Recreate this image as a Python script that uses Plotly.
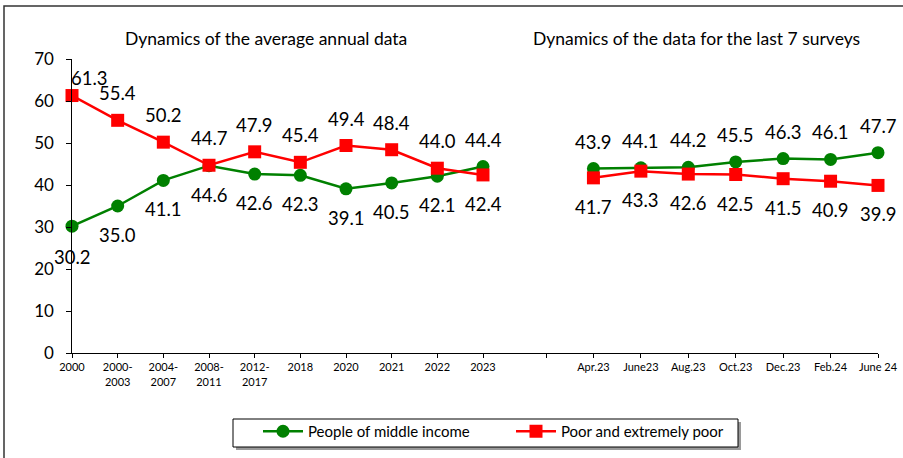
import plotly.graph_objects as go

# ---- data ----
annual_cats = ["2000", "2000-<br>2003", "2004-<br>2007", "2008-<br>2011", "2012-<br>2017",
               "2018", "2020", "2021", "2022", "2023"]
annual_middle = [30.2, 35.0, 41.1, 44.6, 42.6, 42.3, 39.1, 40.5, 42.1, 44.4]
annual_poor = [61.3, 55.4, 50.2, 44.7, 47.9, 45.4, 49.4, 48.4, 44.0, 42.4]

survey_cats = ["Apr.23", "June23", "Aug.23", "Oct.23", "Dec.23", "Feb.24", "June 24"]
survey_middle = [43.9, 44.1, 44.2, 45.5, 46.3, 46.1, 47.7]
survey_poor = [41.7, 43.3, 42.6, 42.5, 41.5, 40.9, 39.9]

name_middle = "People of middle income"
name_poor = "Poor and extremely poor"
title_left = "Dynamics of the average annual data"
title_right = "Dynamics of the data for the last 7 surveys"

# label placement (style): +1 above, -1 below
annual_middle_side = [-1, -1, -1, -1, -1, -1, -1, -1, -1, 1]
annual_poor_side = [1, 1, 1, 1, 1, 1, 1, 1, 1, -1]

# ---- style ----
GREEN = "#008000"
RED = "#FF0000"
FONT = "Lato"
W, H = 903, 458
ML, MR, MT, MB = 72, 25, 59, 105
PW, PH = W - ML - MR, H - MT - MB


def px_x(p):
    return (p - ML) / PW


def px_y(p):
    return (H - MB - p) / PH


fig = go.Figure()

line_w = 2.5
for xa, cats, mid, poor, show in [("x", annual_cats, annual_middle, annual_poor, True),
                                   ("x2", survey_cats, survey_middle, survey_poor, False)]:
    fig.add_trace(go.Scatter(x=cats, y=mid, xaxis=xa, yaxis="y", mode="lines+markers",
                             name=name_middle, showlegend=show, legendgroup="m",
                             line=dict(color=GREEN, width=line_w),
                             marker=dict(symbol="circle", size=13, color=GREEN),
                             cliponaxis=False))
    fig.add_trace(go.Scatter(x=cats, y=poor, xaxis=xa, yaxis="y", mode="lines+markers",
                             name=name_poor, showlegend=show, legendgroup="p",
                             line=dict(color=RED, width=line_w),
                             marker=dict(symbol="square", size=13, color=RED),
                             cliponaxis=False))

UP, DOWN = 27, -29
lab_font = dict(family=FONT, size=18.5, color="black")
ann = []
for i, c in enumerate(annual_cats):
    for v, side in [(annual_middle[i], annual_middle_side[i]), (annual_poor[i], annual_poor_side[i])]:
        ys = UP if side > 0 else DOWN
        xs = 0
        if i == 0 and side > 0:
            ys, xs = 18, 17
        if i == 0 and side < 0:
            ys = -31
        # category axes: position by category index
        ann.append(dict(x=i, y=v, xref="x", yref="y", text=f"{v:.1f}", showarrow=False,
                        yshift=ys, xshift=xs, font=lab_font))
for i, c in enumerate(survey_cats):
    ann.append(dict(x=i + 1, y=survey_middle[i], xref="x2", yref="y", text=f"{survey_middle[i]:.1f}",
                    showarrow=False, yshift=UP, font=lab_font))
    ann.append(dict(x=i + 1, y=survey_poor[i], xref="x2", yref="y", text=f"{survey_poor[i]:.1f}",
                    showarrow=False, yshift=DOWN, font=lab_font))

title_font = dict(family=FONT, size=17.5, color="black")
ann.append(dict(x=px_x(266), y=px_y(38), xref="paper", yref="paper", text=title_left,
                showarrow=False, font=title_font, xanchor="center", yanchor="middle"))
ann.append(dict(x=px_x(696), y=px_y(38), xref="paper", yref="paper", text=title_right,
                showarrow=False, font=title_font, xanchor="center", yanchor="middle"))

split = px_x(546)
left_units = (546 - 72) / ((483 - 72) / (len(annual_cats) - 1))

axis_common = dict(showline=True, linecolor="black", linewidth=1, showgrid=False, zeroline=False,
                   ticks="outside", ticklen=4, tickcolor="black", tickwidth=1,
                   tickfont=dict(family=FONT, size=11, color="black"), fixedrange=True)

fig.update_layout(
    width=W, height=H,
    margin=dict(l=ML, r=MR, t=MT, b=MB, pad=0, autoexpand=False),
    paper_bgcolor="white", plot_bgcolor="white",
    font=dict(family=FONT, color="black"),
    xaxis=dict(domain=[0, split], type="category", categoryorder="array",
               categoryarray=annual_cats, range=[0, left_units], anchor="y", **axis_common),
    xaxis2=dict(domain=[split, 1], type="category", categoryorder="array",
                categoryarray=[" "] + survey_cats, range=[0, len(survey_cats)], anchor="y",
                **axis_common),
    yaxis=dict(range=[0, 70], dtick=10, showline=True, linecolor="black", linewidth=1,
               showgrid=False, zeroline=False, ticks="outside", ticklen=5, tickcolor="black",
               tickwidth=1, ticksuffix="\u00a0\u00a0",
               tickfont=dict(family=FONT, size=17, color="black"), anchor="x", fixedrange=True),
    annotations=ann,
    showlegend=True,
    legend=dict(orientation="h", x=px_x(258), xanchor="left", y=px_y(415), yanchor="top",
                bgcolor="rgba(0,0,0,0)", borderwidth=0,
                font=dict(family=FONT, size=15, color="black"),
                entrywidth=198, entrywidthmode="pixels", itemwidth=40),
    shapes=[
        dict(type="rect", xref="paper", yref="paper", x0=px_x(4), y0=px_y(6), x1=px_x(920),
             y1=px_y(480), line=dict(color="#333333", width=1.5), fillcolor="rgba(0,0,0,0)",
             layer="below"),
        dict(type="rect", xref="paper", yref="paper", x0=px_x(236), y0=px_y(422), x1=px_x(741),
             y1=px_y(450), line=dict(width=0), fillcolor="#9a9a9a", layer="above"),
        dict(type="rect", xref="paper", yref="paper", x0=px_x(233), y0=px_y(419), x1=px_x(738),
             y1=px_y(447), line=dict(color="black", width=1), fillcolor="white", layer="above"),
    ],
)

fig.write_html("out.html", config={"displayModeBar": False},
               post_script="document.body.style.margin='0';document.body.style.overflow='hidden';")
